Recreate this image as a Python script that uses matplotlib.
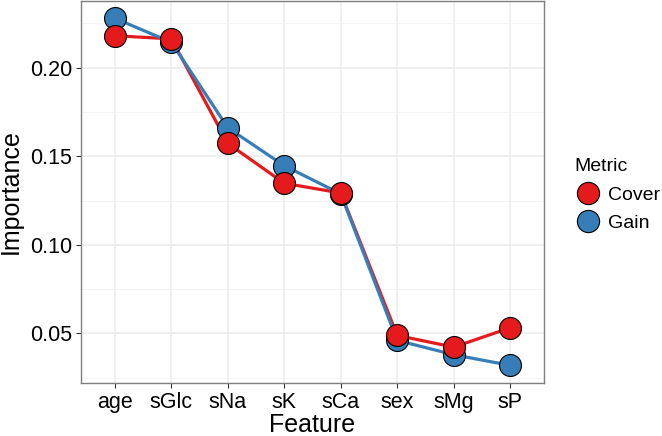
import matplotlib
matplotlib.use('Agg')
import matplotlib.pyplot as plt
from matplotlib.ticker import MultipleLocator
from matplotlib.lines import Line2D

plt.rcParams['font.family'] = ['Liberation Sans', 'DejaVu Sans']

features = ['age', 'sGlc', 'sNa', 'sK', 'sCa', 'sex', 'sMg', 'sP']
cover = [0.2181, 0.2163, 0.1573, 0.1348, 0.1293, 0.0489, 0.0423, 0.0532]
gain = [0.2279, 0.2144, 0.1661, 0.1447, 0.1288, 0.0461, 0.0380, 0.0320]

red = '#E41A1C'
blue = '#377EB8'

fig = plt.figure(figsize=(6.62, 4.36), dpi=100, facecolor='white')
ax = fig.add_axes([0.1224, 0.1222, 0.6994, 0.8755])

x = list(range(1, len(features) + 1))
ax.plot(x, cover, color=red, lw=2.3, zorder=3)
ax.plot(x, gain, color=blue, lw=2.3, zorder=4)
ax.scatter(x, gain, s=250, color=blue, edgecolor='black', linewidth=0.8, zorder=5)
ax.scatter(x, cover, s=250, color=red, edgecolor='black', linewidth=0.8, zorder=6)

allv = cover + gain
lo, hi = min(allv), max(allv)
pad = (hi - lo) * 0.05
ax.set_ylim(lo - pad, hi + pad)
ax.set_xlim(0.4, len(features) + 0.6)

ax.set_xticks(x)
ax.set_xticklabels(features)
ax.yaxis.set_major_locator(MultipleLocator(0.05))
ax.yaxis.set_minor_locator(MultipleLocator(0.025))
ax.yaxis.set_major_formatter(matplotlib.ticker.FormatStrFormatter('%.2f'))

ax.grid(True, which='major', color='#EBEBEB', lw=1.1, zorder=0)
ax.grid(True, which='minor', axis='y', color='#F2F2F2', lw=0.6, zorder=0)
ax.set_axisbelow(True)
ax.tick_params(axis='both', which='major', labelsize=15.5, length=3.5, width=0.8,
               color='#333333', labelcolor='black', pad=3)
ax.tick_params(axis='y', which='minor', length=0)
for s in ax.spines.values():
    s.set_color('#7F7F7F')
    s.set_linewidth(1.0)

ax.set_xlabel('Feature', fontsize=18, labelpad=0)
ax.set_ylabel('Importance', fontsize=18, labelpad=5)

handles = [
    Line2D([], [], marker='o', ls='none', markersize=16, markerfacecolor=red,
           markeredgecolor='black', markeredgewidth=0.8),
    Line2D([], [], marker='o', ls='none', markersize=16, markerfacecolor=blue,
           markeredgecolor='black', markeredgewidth=0.8),
]
leg = fig.legend(handles, ['Cover', 'Gain'], title='Metric', loc='upper left',
                 bbox_to_anchor=(0.856, 0.655), frameon=False, fontsize=14,
                 title_fontsize=14, handletextpad=0.35, labelspacing=0.55,
                 handlelength=1.4, borderaxespad=0)
leg._legend_box.align = 'left'

fig.savefig('out.png', dpi=100, facecolor='white')
